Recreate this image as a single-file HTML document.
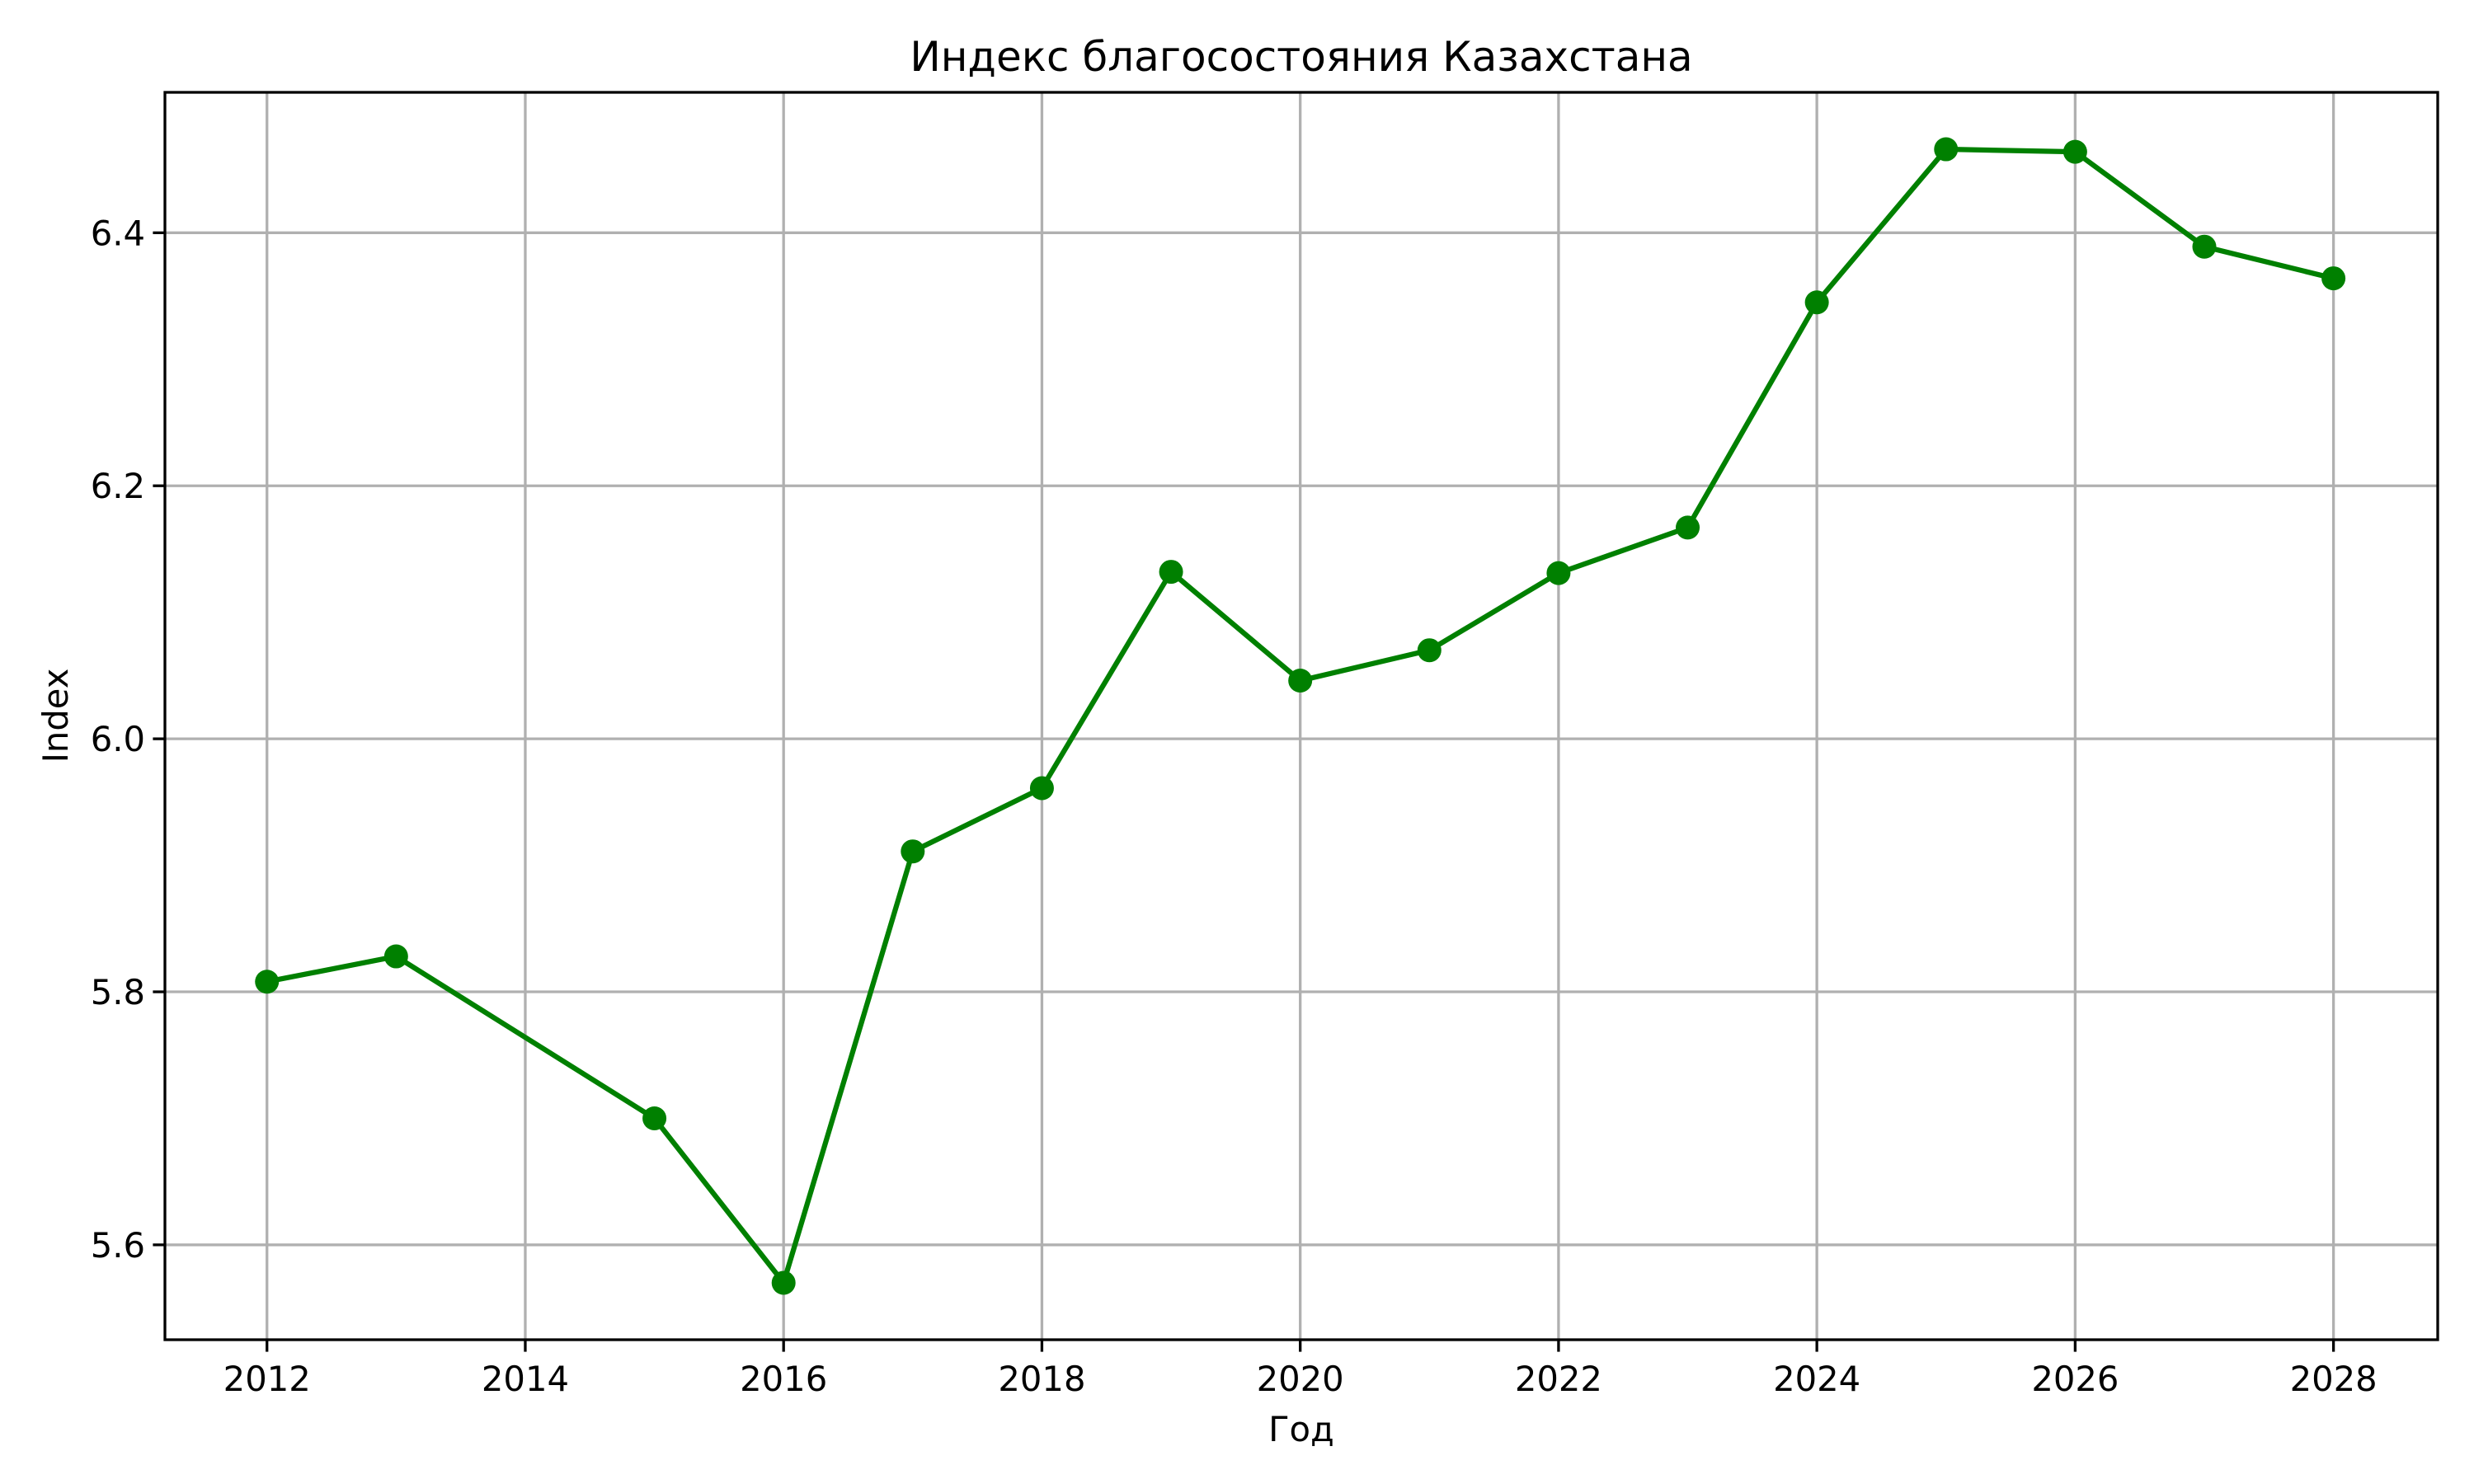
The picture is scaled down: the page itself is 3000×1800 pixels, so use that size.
<!DOCTYPE html>
<html><head><meta charset="utf-8"><style>
html,body{margin:0;padding:0;background:#fff;}
svg{display:block;font-family:"DejaVu Sans","Liberation Sans",sans-serif;}
</style></head><body>
<svg id="chart" width="3000" height="1800" viewBox="0 0 3000 1800" xmlns="http://www.w3.org/2000/svg">
<rect width="3000" height="1800" fill="#fff"/>
<g id="grid"></g>
<g id="axes"></g>
<g id="series"></g>
<text x="1578" y="86" font-size="50" text-anchor="middle">Индекс благосостояния Казахстана</text>
<text x="1578" y="1748" font-size="41.7" text-anchor="middle">Год</text>
<text transform="translate(82,868) rotate(-90)" font-size="41.7" text-anchor="middle">Index</text>
</svg>
<script>
const years = [2012,2013,2015,2016,2017,2018,2019,2020,2021,2022,2023,2024,2025,2026,2027,2028];
const values = [5.808,5.828,5.700,5.570,5.911,5.961,6.132,6.046,6.070,6.131,6.167,6.345,6.466,6.464,6.389,6.364];
const xTicks = [2012,2014,2016,2018,2020,2022,2024,2026,2028];
const yTicks = [5.6,5.8,6.0,6.2,6.4];
const yTickLabels = ["5.6","5.8","6.0","6.2","6.4"];

const L=200,R=2956,T=112,B=1625;
const xMin=2011.21,xMax=2028.807,yMin=5.525,yMax=6.511;
const sx=v=>L+(v-xMin)/(xMax-xMin)*(R-L);
const sy=v=>B-(v-yMin)/(yMax-yMin)*(B-T);
const NS="http://www.w3.org/2000/svg";
function mk(tag,attrs,parent){const e=document.createElementNS(NS,tag);for(const k in attrs)e.setAttribute(k,attrs[k]);parent.appendChild(e);return e;}
const grid=document.getElementById('grid'),axes=document.getElementById('axes'),series=document.getElementById('series');
xTicks.forEach(t=>{
  const x=sx(t);
  const g=mk('line',{x1:x,x2:x,y1:T,y2:B,stroke:'#b0b0b0','stroke-width':3.3},grid);
  
  
  const tk=mk('line',{x1:x,x2:x,y1:B,y2:B+14.6,stroke:'#000','stroke-width':3.3},axes);
  
  
  const tx=mk('text',{x:x,y:B+62,'font-size':41.7,'text-anchor':'middle'},axes);
  tx.textContent=t;
  
  
});
yTicks.forEach((t,i)=>{
  const y=sy(t);
  const g=mk('line',{x1:L,x2:R,y1:y,y2:y,stroke:'#b0b0b0','stroke-width':3.3},grid);
  
  
  const tk=mk('line',{x1:L-14.6,x2:L,y1:y,y2:y,stroke:'#000','stroke-width':3.3},axes);
  
  
  const tx=mk('text',{x:L-24,y:y+15,'font-size':41.7,'text-anchor':'end'},axes);
  tx.textContent=yTickLabels[i];
  
  
});
const frame=mk('rect',{x:L,y:T,width:R-L,height:B-T,fill:'none',stroke:'#000','stroke-width':3.3},axes);


const pts=years.map((y,i)=>sx(y)+','+sy(values[i])).join(' ');
const line=mk('polyline',{points:pts,fill:'none',stroke:'#008000','stroke-width':6.25,'stroke-linejoin':'round'},series);


years.forEach((y,i)=>{
  const c=mk('circle',{cx:sx(y),cy:sy(values[i]),r:14.5,fill:'#008000'},series);
  
  
});
</script>
</body></html>
